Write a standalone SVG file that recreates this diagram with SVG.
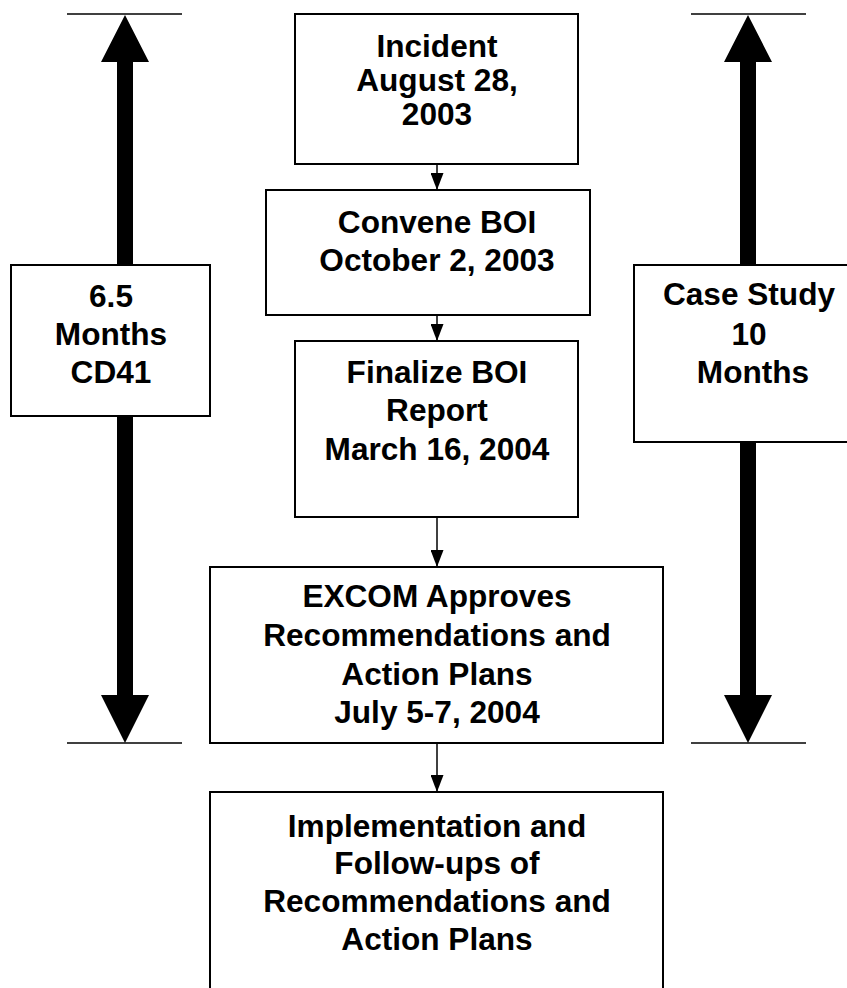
<svg xmlns="http://www.w3.org/2000/svg" width="847" height="988" viewBox="0 0 847 988">
<style>
.box{fill:#fff;stroke:#000;stroke-width:2}
.t{font-family:"Liberation Sans",Arial,sans-serif;font-weight:bold;font-size:31.6px;text-anchor:middle;fill:#000}
.ln{stroke:#000;stroke-width:1.5;fill:none}
.big{fill:#000;stroke:none}
</style>
<defs>
<marker id="ah" markerWidth="17" markerHeight="13" refX="17" refY="6.5" orient="auto" markerUnits="userSpaceOnUse" viewBox="0 0 17 13">
<path d="M0,0 L17,6.5 L0,13 Z" fill="#000"/>
</marker>
</defs>
<rect width="847" height="988" fill="#fff"/>
<g id="spans">
<line class="ln" x1="67" y1="14" x2="182" y2="14"/>
<line class="ln" x1="67" y1="743" x2="182" y2="743"/>
<line class="ln" x1="691" y1="14" x2="806" y2="14"/>
<line class="ln" x1="691" y1="743" x2="806" y2="743"/>
<path class="big" d="M125,15 L149,62 L133,62 L133,695 L149,695 L125,743 L101,695 L117,695 L117,62 L101,62 Z"/>
<path class="big" d="M748,15 L772,62 L756,62 L756,695 L772,695 L748,743 L724,695 L740,695 L740,62 L724,62 Z"/>
</g>
<g id="connectors">
<line class="ln" x1="437" y1="164" x2="437" y2="190" marker-end="url(#ah)"/>
<line class="ln" x1="437" y1="315" x2="437" y2="341" marker-end="url(#ah)"/>
<line class="ln" x1="437" y1="517" x2="437" y2="567" marker-end="url(#ah)"/>
<line class="ln" x1="437" y1="743" x2="437" y2="792" marker-end="url(#ah)"/>
</g>
<g id="cd41">
<rect class="box" x="11" y="265" width="199" height="151"/>
<text class="t" x="111" y="307">6.5</text>
<text class="t" x="111" y="345">Months</text>
<text class="t" x="111" y="383">CD41</text>
</g>
<g id="casestudy">
<rect class="box" x="634" y="265" width="215" height="177"/>
<text class="t" x="749" y="305">Case Study</text>
<text class="t" x="749" y="345">10</text>
<text class="t" x="753" y="383">Months</text>
</g>
<g id="incident">
<rect class="box" x="295" y="14" width="283" height="150"/>
<text class="t" x="437" y="57">Incident</text>
<text class="t" x="437" y="91">August 28,</text>
<text class="t" x="437" y="125">2003</text>
</g>
<g id="convene">
<rect class="box" x="266" y="190" width="324" height="125"/>
<text class="t" x="437" y="233">Convene BOI</text>
<text class="t" x="437" y="271">October 2, 2003</text>
</g>
<g id="finalize">
<rect class="box" x="295" y="341" width="283" height="176"/>
<text class="t" x="437" y="383">Finalize BOI</text>
<text class="t" x="437" y="421">Report</text>
<text class="t" x="437" y="460">March 16, 2004</text>
</g>
<g id="excom">
<rect class="box" x="210" y="567" width="453" height="176"/>
<text class="t" x="437" y="607">EXCOM Approves</text>
<text class="t" x="437" y="646">Recommendations and</text>
<text class="t" x="437" y="685">Action Plans</text>
<text class="t" x="437" y="723">July 5-7, 2004</text>
</g>
<g id="implementation">
<rect class="box" x="210" y="792" width="453" height="200"/>
<text class="t" x="437" y="837">Implementation and</text>
<text class="t" x="437" y="874">Follow-ups of</text>
<text class="t" x="437" y="912">Recommendations and</text>
<text class="t" x="437" y="950">Action Plans</text>
</g>
</svg>
